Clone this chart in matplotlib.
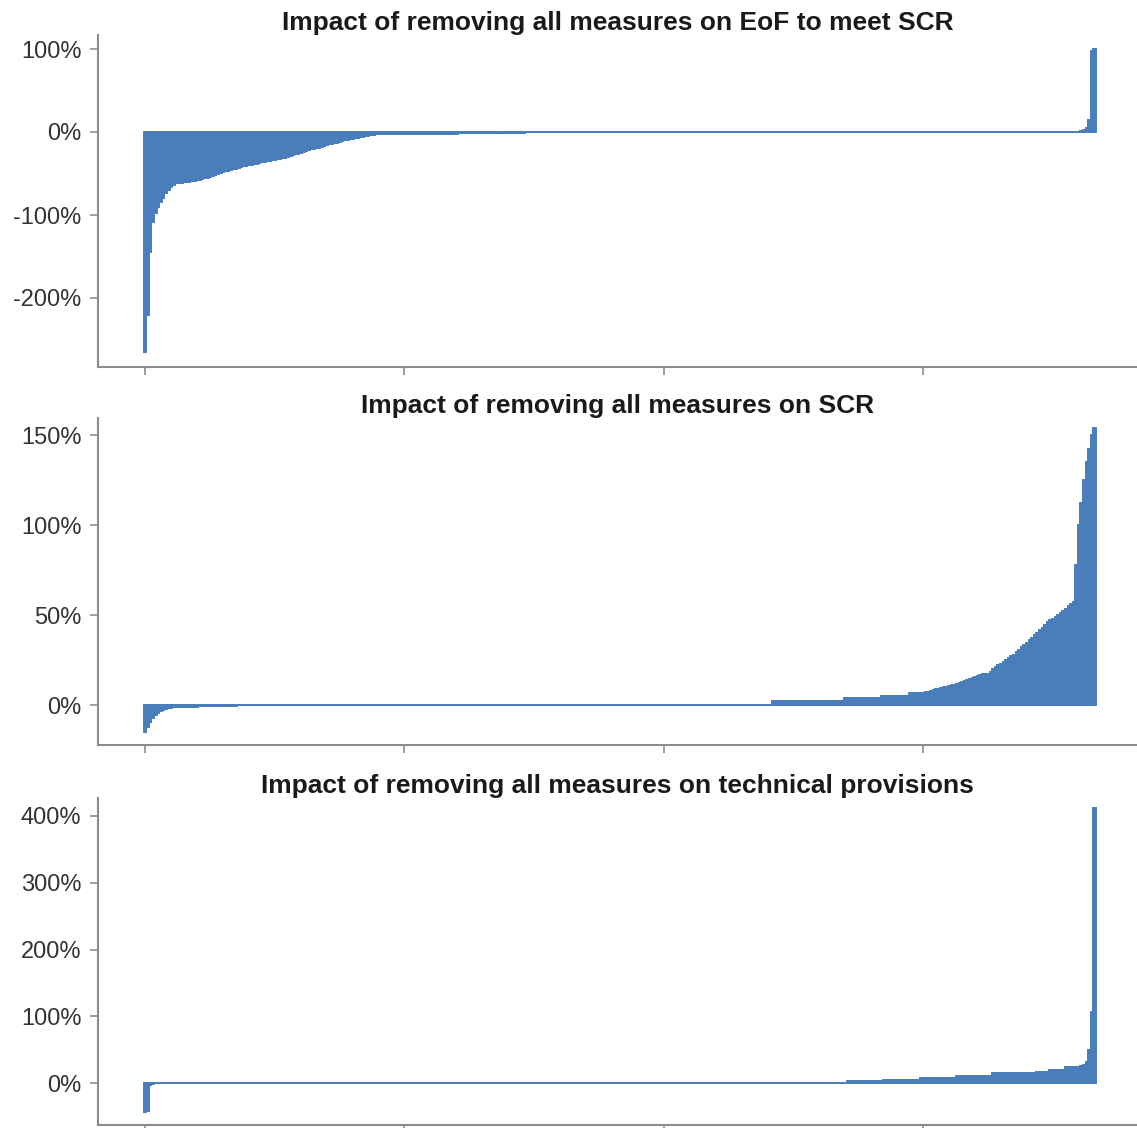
import matplotlib
matplotlib.use("Agg")
import matplotlib.pyplot as plt
import numpy as np
from matplotlib.ticker import FuncFormatter

# ---- data (values in %; undertakings sorted by impact) ----
eof_impact = ([-265, -220, -145, -108, -98, -90, -84, -79, -74, -70, -66, -64, -62]
              + [-61, -61, -60, -60, -60, -59, -59, -58]
              + [-58, -57, -56, -55, -54, -53, -52, -51, -49]
              + [-48, -47, -47, -46, -45, -44, -43]
              + [-42, -41, -41, -40, -40, -39, -38, -37]
              + [-36.5, -36, -35.5, -35, -34, -33.5, -33, -32, -31.5, -31, -30, -29, -28]
              + [-27, -26, -25, -24, -23, -22, -21, -20, -19.5, -19, -18, -17, -16]
              + [-15, -14, -13.5, -13, -12, -11, -10, -9.5, -9, -8, -7.5, -7, -6]
              + [-5.5, -5, -4.5, -4, -3.5, -3, -3, -2.5, -2.5]
              + [-2.0] * 28
              + [-1.5] * 26
              + [0.0] * 214
              + [1, 2, 5, 14, 97, 100])

scr_impact = ([-15, -12, -9.5, -7, -5.5, -4.5, -3.5, -2.8, -2.2, -1.7, -1.5]
              + [-1.2] * 10
              + [-0.8] * 15
              + [0.0] * 206
              + [2.2] * 28
              + [3.7] * 14
              + [5.0] * 11
              + [6.5] * 6
              + [7, 7.5, 8, 8.3, 8.7, 9, 9.4, 9.8, 10.2, 10.5, 11, 11.3, 11.7, 12.2,
                 12.7, 13.3, 13.8, 14.3, 14.9, 15.5, 16.1, 16.7, 17, 17, 17.3, 18.5,
                 19.8, 21, 22, 23, 24, 25, 26, 27, 28, 29.3, 30.6, 32, 33.3, 34.7, 36,
                 37.4, 38.8, 40.2, 41.6, 43, 44.5, 46, 47, 48, 49, 50, 51, 52, 53.5,
                 55, 56, 57]
              + [78, 100, 112, 125, 135, 142, 150, 154])

tp_impact = ([-44, -42, -3, -1.5]
             + [0.0] * 267
             + [3.0] * 14
             + [5.0] * 14
             + [7.5] * 14
             + [11.0] * 14
             + [14.5] * 17
             + [17.0] * 5
             + [20.0] * 6
             + [24.0] * 6
             + [25, 27, 32, 50, 107, 412])

titles = ["Impact of removing all measures on EoF to meet SCR",
          "Impact of removing all measures on SCR",
          "Impact of removing all measures on technical provisions"]
yticks_list = [[-200, -100, 0, 100], [0, 50, 100, 150], [0, 100, 200, 300, 400]]
xticks = [0, 100, 200, 300]

W, H = 1137, 1128
fig = plt.figure(figsize=(W / 100, H / 100), dpi=100)
plt.rcParams['font.family'] = ['Liberation Sans', 'DejaVu Sans']

color = '#4A7EBB'
spine_col = '#8C8C8C'

# axes boxes in pixels: (top, bottom, zero_y, px_per_pct)
panels = [
    (35, 367, 132, 0.83),
    (418, 745, 705, 1.80),
    (798, 1125, 1083, 0.6675),
]
left_px, right_px = 98, 1137
x_lo, x_hi = -18.1, (right_px - 145) / 2.595

for i, (data, title, yt, (top, bot, zero, ppp)) in enumerate(
        zip([eof_impact, scr_impact, tp_impact], titles, yticks_list, panels)):
    ax = fig.add_axes([left_px / W, 1 - bot / H, (right_px - left_px) / W, (bot - top) / H])
    vals = np.array(data, dtype=float)
    x = np.arange(len(vals))
    ax.bar(x, vals, width=1.0, color=color, edgecolor=color, linewidth=1.4)
    ax.set_xlim(x_lo, x_hi)
    ax.set_ylim(-(bot - zero) / ppp, (zero - top) / ppp)
    ax.set_yticks(yt)
    ax.yaxis.set_major_formatter(FuncFormatter(lambda v, p: f"{int(v)}%"))
    ax.set_xticks(xticks)
    ax.set_xticklabels([])
    for s in ['top', 'right']:
        ax.spines[s].set_visible(False)
    for s in ['left', 'bottom']:
        ax.spines[s].set_color(spine_col)
        ax.spines[s].set_linewidth(1.5)
    ax.tick_params(axis='both', direction='out', length=6, width=1.2, color=spine_col,
                   labelsize=17, labelcolor='#333333', pad=6)
    ax.set_title(title, fontsize=19, fontweight='bold', color='#1a1a1a', pad=2)

fig.savefig('out.png', dpi=100)
